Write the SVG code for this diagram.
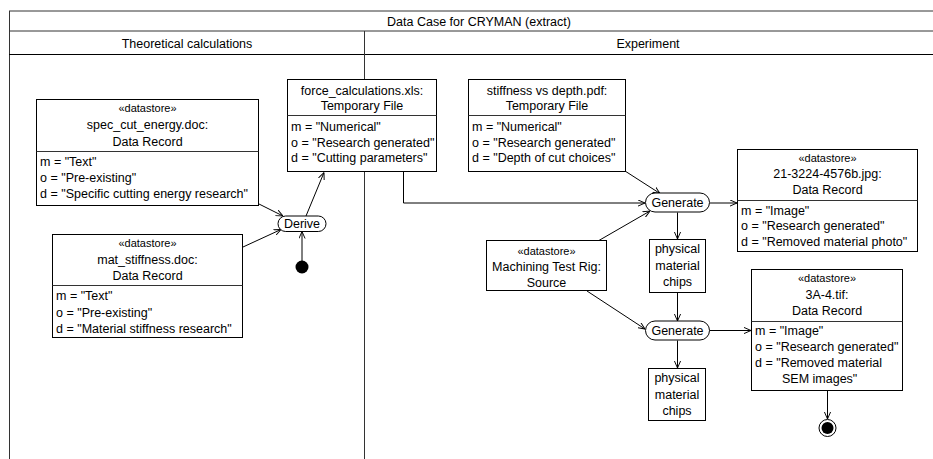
<svg xmlns="http://www.w3.org/2000/svg" width="933" height="459" viewBox="0 0 933 459">
<defs>
<style>
text{font-family:"Liberation Sans",Arial,sans-serif;font-size:12.5px;fill:#000}
.c{text-anchor:middle}
.s{font-size:11px}
.box{fill:#fff;stroke:#000;stroke-width:1}
.div{stroke:#333;stroke-width:1}
.frame{stroke:#333;fill:none;stroke-width:1}
.con{fill:none;stroke:#000;stroke-width:1;marker-end:url(#arr)}
</style>
<marker id="arr" viewBox="0 0 8 8" refX="8" refY="4" markerWidth="7" markerHeight="7" markerUnits="userSpaceOnUse" orient="auto">
<path d="M0,0.5 L8,4 L0,7.5" fill="none" stroke="#000" stroke-width="1.1"/>
</marker>
</defs>
<rect width="933" height="459" fill="#fff"/>
<g id="frame">
<line class="frame" x1="9" y1="11" x2="933" y2="11"/>
<line class="frame" x1="9.5" y1="11" x2="9.5" y2="459"/>
<line class="frame" x1="9" y1="31" x2="933" y2="31"/>
<line x1="9" y1="54.5" x2="933" y2="54.5" stroke="#000"/>
<line class="frame" x1="364.5" y1="31" x2="364.5" y2="459"/>
<text class="c" x="479" y="25.5">Data Case for CRYMAN (extract)</text>
<text class="c" x="187" y="47.5">Theoretical calculations</text>
<text class="c" x="648" y="47.5">Experiment</text>
</g>
<g id="connectors">
<line class="con" x1="259" y1="204" x2="283" y2="216"/>
<line class="con" x1="243" y1="247" x2="281" y2="229.5"/>
<line class="con" x1="302" y1="261" x2="302" y2="231.5"/>
<line class="con" x1="306" y1="216" x2="324" y2="172.5"/>
<polyline class="con" points="403.5,172 403.5,203 645,203"/>
<line class="con" x1="625" y1="171" x2="660" y2="193.5"/>
<line class="con" x1="598" y1="241" x2="650" y2="211"/>
<line class="con" x1="710" y1="203" x2="737" y2="203"/>
<line class="con" x1="677.5" y1="212.5" x2="677.5" y2="239"/>
<line class="con" x1="677.5" y1="293" x2="677.5" y2="321"/>
<line class="con" x1="587" y1="291" x2="645" y2="329"/>
<line class="con" x1="709.5" y1="330.5" x2="751" y2="330.5"/>
<line class="con" x1="677.5" y1="340.5" x2="677.5" y2="368"/>
<line class="con" x1="827.5" y1="391" x2="827.5" y2="419"/>
</g>
<g id="spec_cut_energy">
<rect class="box" x="36.5" y="99.5" width="222" height="106"/>
<line class="div" x1="36.5" y1="151.5" x2="258.5" y2="151.5"/>
<text class="c s" x="147.5" y="112">«datastore»</text>
<text class="c" x="147.5" y="129">spec_cut_energy.doc:</text>
<text class="c" x="147.5" y="146">Data Record</text>
<text x="40" y="165.5">m = "Text"</text>
<text x="40" y="181.5">o = "Pre-existing"</text>
<text x="40" y="198">d = "Specific cutting energy research"</text>
</g>
<g id="mat_stiffness">
<rect class="box" x="52.5" y="234.5" width="190" height="103"/>
<line class="div" x1="52.5" y1="285.5" x2="242.5" y2="285.5"/>
<text class="c s" x="147.5" y="246.5">«datastore»</text>
<text class="c" x="147.5" y="263.5">mat_stiffness.doc:</text>
<text class="c" x="147.5" y="279.5">Data Record</text>
<text x="56" y="300">m = "Text"</text>
<text x="56" y="316.5">o = "Pre-existing"</text>
<text x="56" y="332.5">d = "Material stiffness research"</text>
</g>
<g id="derive">
<rect class="box" x="278" y="216" width="48" height="15.5" rx="7.7"/>
<text class="c" x="302" y="228.3">Derive</text>
</g>
<g id="initial">
<circle cx="302" cy="267" r="6.5" fill="#000"/>
</g>
<g id="force_calculations">
<rect class="box" x="287.5" y="79.5" width="149" height="92"/>
<line class="div" x1="287.5" y1="115.5" x2="436.5" y2="115.5"/>
<text class="c" x="362" y="94.5">force_calculations.xls:</text>
<text class="c" x="362" y="110">Temporary File</text>
<text x="291" y="130.5">m = "Numerical"</text>
<text x="291" y="146.5">o = "Research generated"</text>
<text x="291" y="162">d = "Cutting parameters"</text>
</g>
<g id="stiffness_depth">
<rect class="box" x="468.5" y="79.5" width="157" height="92"/>
<line class="div" x1="468.5" y1="115.5" x2="625.5" y2="115.5"/>
<text class="c" x="547" y="94.5">stiffness vs depth.pdf:</text>
<text class="c" x="547" y="110">Temporary File</text>
<text x="472" y="130.5">m = "Numerical"</text>
<text x="472" y="146.5">o = "Research generated"</text>
<text x="472" y="162">d = "Depth of cut choices"</text>
</g>
<g id="generate1">
<rect class="box" x="645.5" y="193" width="64" height="19" rx="9.5"/>
<text class="c" x="677.5" y="207">Generate</text>
</g>
<g id="photo_record">
<rect class="box" x="737.5" y="149.5" width="180" height="102"/>
<line class="div" x1="737.5" y1="200.5" x2="917.5" y2="200.5"/>
<text class="c s" x="827.5" y="161.5">«datastore»</text>
<text class="c" x="827.5" y="177.5">21-3224-4576b.jpg:</text>
<text class="c" x="827.5" y="193.5">Data Record</text>
<text x="741" y="214.5">m = "Image"</text>
<text x="741" y="230">o = "Research generated"</text>
<text x="741" y="245.5">d = "Removed material photo"</text>
</g>
<g id="test_rig">
<rect class="box" x="486.5" y="240.5" width="120" height="50"/>
<text class="c s" x="546.5" y="254.5">«datastore»</text>
<text class="c" x="546.5" y="271">Machining Test Rig:</text>
<text class="c" x="546.5" y="286.5">Source</text>
</g>
<g id="chips1">
<rect class="box" x="649.5" y="239.5" width="56" height="53"/>
<text class="c" x="677.5" y="253">physical</text>
<text class="c" x="677.5" y="269.5">material</text>
<text class="c" x="677.5" y="285.5">chips</text>
</g>
<g id="generate2">
<rect class="box" x="645.5" y="321" width="64" height="19" rx="9.5"/>
<text class="c" x="677.5" y="335">Generate</text>
</g>
<g id="chips2">
<rect class="box" x="648.5" y="368.5" width="57" height="52"/>
<text class="c" x="677" y="382">physical</text>
<text class="c" x="677" y="398.5">material</text>
<text class="c" x="677" y="414.5">chips</text>
</g>
<g id="sem_record">
<rect class="box" x="751.5" y="269.5" width="151" height="121"/>
<line class="div" x1="751.5" y1="321.5" x2="902.5" y2="321.5"/>
<text class="c s" x="827" y="282">«datastore»</text>
<text class="c" x="827" y="299">3A-4.tif:</text>
<text class="c" x="827" y="315">Data Record</text>
<text x="755" y="335">m = "Image"</text>
<text x="755" y="351">o = "Research generated"</text>
<text x="755" y="367">d = "Removed material</text>
<text x="782" y="383">SEM images"</text>
</g>
<g id="final">
<circle cx="827.5" cy="428" r="8.5" fill="#fff" stroke="#000" stroke-width="1"/>
<circle cx="827.5" cy="428" r="6" fill="#000"/>
</g>
</svg>
